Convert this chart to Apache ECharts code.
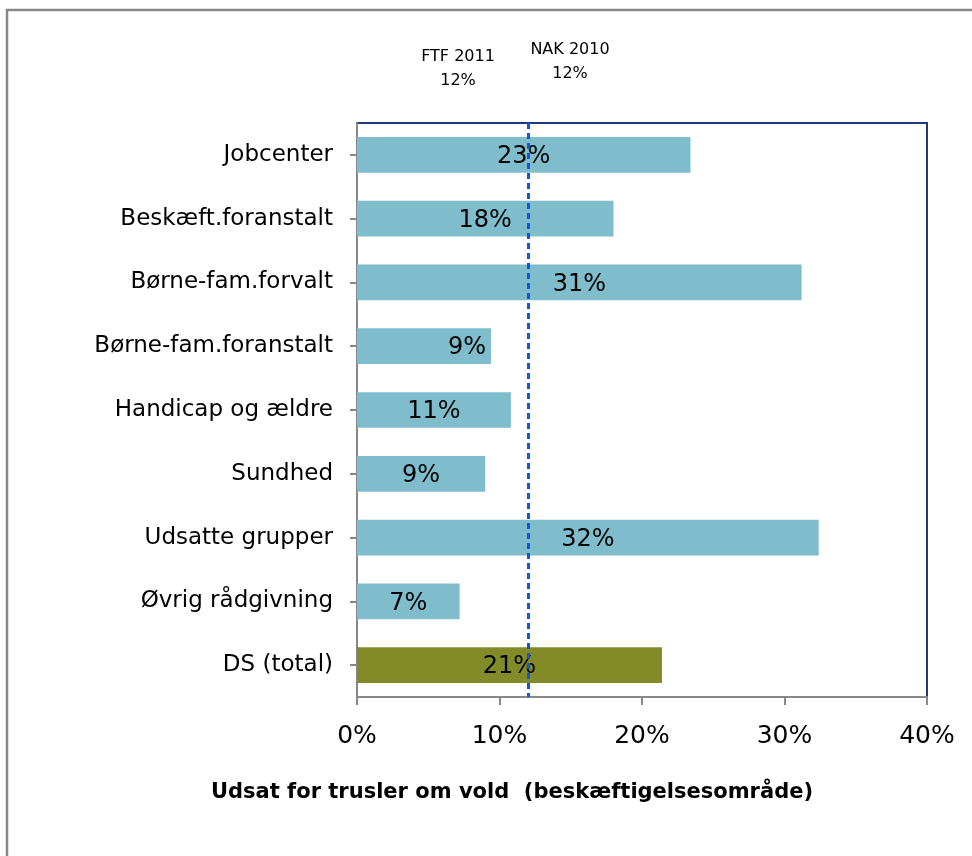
<!DOCTYPE html>
<html>
<head>
<meta charset="utf-8">
<script src="https://cdn.jsdelivr.net/npm/echarts@6/dist/echarts.min.js"></script>
<style>html,body{margin:0;padding:0;background:#fff}#c{width:972px;height:856px}</style>
</head>
<body>
<div id="c"></div>
<script>
const categories = ['Jobcenter','Beskæft.foranstalt','Børne-fam.forvalt','Børne-fam.foranstalt','Handicap og ældre','Sundhed','Udsatte grupper','Øvrig rådgivning','DS (total)'];
const values = [23.4, 18.0, 31.2, 9.4, 10.8, 9.0, 32.4, 7.2, 21.4];
const labels = ['23%','18%','31%','9%','11%','9%','32%','7%','21%'];
const refValue = 12;
const refLabels = [['FTF 2011','12%'],['NAK 2010','12%']];
const xTicks = [0,10,20,30,40];

const FONT = 'DejaVu Sans';
const chart = echarts.init(document.getElementById('c'), null, {renderer:'canvas'});
const data = values.map((v,i)=>{
  const item = {value:v, label:{formatter:labels[i]}};
  if (i === categories.length-1) item.itemStyle = {color:'#838B28'};
  if (i === 3) item.label.position = 'insideRight';
  return item;
});
chart.setOption({
  animation:false,
  grid:{left:357, right:45, top:123, bottom:159, show:false},
  xAxis:{
    type:'value', min:xTicks[0], max:xTicks[xTicks.length-1], interval:10,
    axisLine:{show:true, lineStyle:{color:'#888', width:2}},
    axisTick:{show:true, length:8, lineStyle:{color:'#888', width:2}},
    splitLine:{show:false},
    axisLabel:{formatter:v=>v+'%', color:'#000', fontFamily:FONT, fontSize:25, margin:27}
  },
  yAxis:{
    type:'category', data:categories, inverse:true,
    axisLine:{show:true, lineStyle:{color:'#888', width:2}},
    axisTick:{show:true, alignWithLabel:true, length:7, lineStyle:{color:'#888', width:2}},
    axisLabel:{color:'#000', fontFamily:FONT, fontSize:23, margin:24}
  },
  series:[{
    type:'bar', data:data, barCategoryGap:'44%',
    itemStyle:{color:'#7FBDCC'},
    label:{show:true, position:'inside', color:'#000', fontFamily:FONT, fontSize:24, offset:[0,2]},
    markLine:{
      silent:true, symbol:'none', label:{show:false},
      lineStyle:{color:'#1155DD', type:[6,4], width:3},
      data:[{xAxis:refValue}]
    },
    z:2
  }],
  graphic:[
    {type:'rect', shape:{x:7, y:10, width:1000, height:900}, style:{fill:'none', stroke:'#888', lineWidth:2.5}, silent:true},
    {type:'rect', shape:{x:357, y:123, width:570, height:574}, style:{fill:'none', stroke:'#1F3A7A', lineWidth:2}, z:-1, silent:true},
    {type:'text', x:458, y:45, style:{text:refLabels[0].join('\n'), font:'16px '+FONT, fill:'#000', align:'center', lineHeight:24}},
    {type:'text', x:570, y:38, style:{text:refLabels[1].join('\n'), font:'16px '+FONT, fill:'#000', align:'center', lineHeight:24}},
    {type:'text', x:512, y:782, style:{text:'Udsat for trusler om vold  (beskæftigelsesområde)', font:'bold 21px '+FONT, fill:'#000', align:'center'}}
  ]
});
</script>
</body>
</html>
